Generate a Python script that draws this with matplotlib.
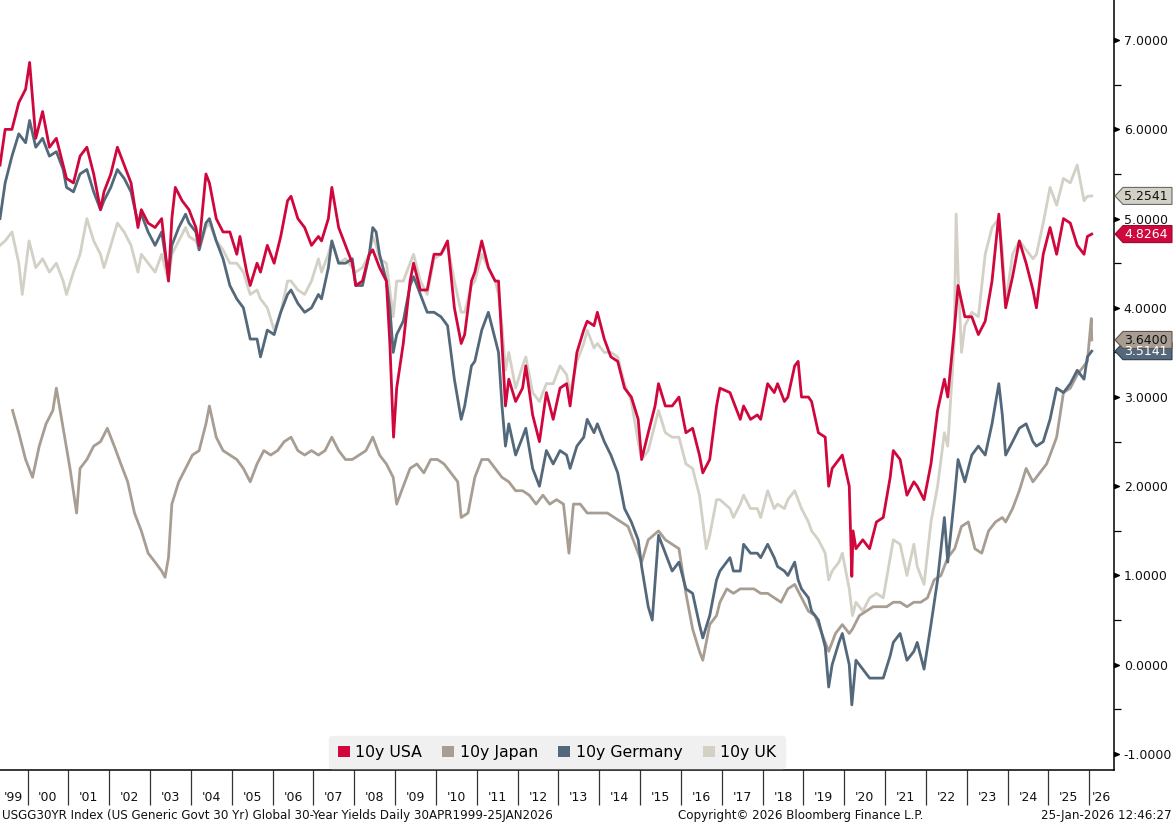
import pandas as pd
import matplotlib
matplotlib.use("Agg")
import matplotlib.pyplot as plt
import matplotlib.dates as mdates
from matplotlib.path import Path
from matplotlib.patches import Polygon, Patch
from matplotlib.transforms import IdentityTransform, blended_transform_factory

# ---- data (30y yields) ----
usa_dates = ["1999-04-30", "1999-06", "1999-08", "1999-10", "1999-12", "2000-01-20", "2000-03", "2000-05",
             "2000-07", "2000-09", "2000-11", "2000-12", "2001-02", "2001-04", "2001-06", "2001-08", "2001-10",
             "2001-11", "2002-01", "2002-03", "2002-05", "2002-07", "2002-09", "2002-10", "2002-12", "2003-02",
             "2003-04", "2003-06", "2003-07", "2003-08", "2003-10", "2003-12", "2004-02", "2004-03", "2004-05",
             "2004-06", "2004-08", "2004-10", "2004-12", "2005-02", "2005-03", "2005-05", "2005-06", "2005-08",
             "2005-09", "2005-11", "2006-01", "2006-03", "2006-05", "2006-06", "2006-08", "2006-10", "2006-12",
             "2007-02", "2007-03", "2007-05", "2007-06", "2007-08", "2007-10", "2007-12", "2008-01", "2008-03",
             "2008-05", "2008-06", "2008-08", "2008-10", "2008-11", "2008-12-18", "2009-01", "2009-03", "2009-05",
             "2009-06", "2009-08", "2009-10", "2009-12", "2010-02", "2010-04", "2010-06", "2010-08", "2010-09",
             "2010-11", "2010-12", "2011-02", "2011-04", "2011-06", "2011-07", "2011-08", "2011-09", "2011-10",
             "2011-12", "2012-02", "2012-03", "2012-05", "2012-07", "2012-09", "2012-11", "2013-01", "2013-03",
             "2013-04", "2013-06", "2013-08", "2013-09", "2013-11", "2013-12", "2014-02", "2014-04", "2014-06",
             "2014-08", "2014-10", "2014-12", "2015-01", "2015-03", "2015-05", "2015-06", "2015-08", "2015-10",
             "2015-12", "2016-02", "2016-04", "2016-06", "2016-07", "2016-09", "2016-11", "2016-12", "2017-03",
             "2017-04", "2017-06", "2017-07", "2017-09", "2017-11", "2017-12", "2018-02", "2018-04", "2018-05",
             "2018-07", "2018-08", "2018-10", "2018-11", "2018-12", "2019-02", "2019-03", "2019-05", "2019-07",
             "2019-08", "2019-09", "2019-11", "2019-12", "2020-02", "2020-03-09", "2020-03-20", "2020-04",
             "2020-06", "2020-08", "2020-10", "2020-12", "2021-02", "2021-03", "2021-05", "2021-07", "2021-09",
             "2021-10", "2021-12", "2022-02", "2022-04", "2022-06", "2022-07", "2022-09", "2022-10", "2022-12",
             "2023-02", "2023-04", "2023-06", "2023-08", "2023-10", "2023-11", "2023-12", "2024-02", "2024-04",
             "2024-06", "2024-08", "2024-09", "2024-11", "2025-01", "2025-03", "2025-05", "2025-07", "2025-09",
             "2025-11", "2025-12", "2026-01-23"]
usa_vals = [5.6, 6.0, 6.0, 6.3, 6.45, 6.75, 5.9, 6.2,
            5.8, 5.9, 5.6, 5.45, 5.4, 5.7, 5.8, 5.5, 5.1,
            5.3, 5.5, 5.8, 5.6, 5.4, 4.9, 5.1, 4.95, 4.9,
            5.0, 4.3, 5.0, 5.35, 5.2, 5.1, 4.9, 4.7, 5.5,
            5.4, 5.0, 4.85, 4.85, 4.6, 4.8, 4.4, 4.25, 4.5,
            4.4, 4.7, 4.5, 4.8, 5.2, 5.25, 5.0, 4.9, 4.7,
            4.8, 4.75, 5.0, 5.35, 4.9, 4.7, 4.5, 4.25, 4.3,
            4.6, 4.65, 4.45, 4.3, 3.6, 2.55, 3.1, 3.6, 4.3,
            4.5, 4.2, 4.2, 4.6, 4.6, 4.75, 4.0, 3.6, 3.7,
            4.3, 4.4, 4.75, 4.45, 4.3, 4.3, 3.6, 2.9, 3.2,
            2.95, 3.1, 3.35, 2.8, 2.5, 3.05, 2.75, 3.1, 3.15,
            2.9, 3.5, 3.75, 3.85, 3.8, 3.95, 3.65, 3.45, 3.4,
            3.1, 3.0, 2.75, 2.3, 2.6, 2.9, 3.15, 2.9, 2.9,
            3.0, 2.6, 2.65, 2.35, 2.15, 2.3, 2.9, 3.1, 3.05,
            2.95, 2.75, 2.9, 2.75, 2.8, 2.75, 3.15, 3.05, 3.15,
            2.95, 3.0, 3.35, 3.4, 3.0, 3.0, 2.95, 2.6, 2.55,
            2.0, 2.2, 2.3, 2.35, 2.0, 0.99, 1.5, 1.3,
            1.4, 1.3, 1.6, 1.65, 2.1, 2.4, 2.3, 1.9, 2.05,
            2.0, 1.85, 2.25, 2.85, 3.2, 3.0, 3.8, 4.25, 3.9,
            3.9, 3.7, 3.85, 4.3, 5.05, 4.5, 4.0, 4.35, 4.75,
            4.5, 4.2, 4.0, 4.6, 4.9, 4.6, 5.0, 4.95, 4.7,
            4.6, 4.8, 4.8264]

japan_dates = ["1999-08-20", "1999-10", "1999-12", "2000-02", "2000-04", "2000-06", "2000-08", "2000-09",
               "2000-11", "2001-01", "2001-03", "2001-04", "2001-06", "2001-08", "2001-10", "2001-12", "2002-02",
               "2002-04", "2002-06", "2002-08", "2002-10", "2002-12", "2003-02", "2003-04", "2003-05", "2003-06",
               "2003-07", "2003-09", "2003-11", "2004-01", "2004-03", "2004-05", "2004-06", "2004-08", "2004-10",
               "2004-12", "2005-02", "2005-04", "2005-06", "2005-08", "2005-10", "2005-12", "2006-02", "2006-04",
               "2006-06", "2006-08", "2006-10", "2006-12", "2007-02", "2007-04", "2007-06", "2007-08", "2007-10",
               "2007-12", "2008-02", "2008-04", "2008-06", "2008-08", "2008-10", "2008-12", "2009-01", "2009-03",
               "2009-05", "2009-07", "2009-09", "2009-11", "2010-01", "2010-03", "2010-05", "2010-07", "2010-08",
               "2010-10", "2010-12", "2011-02", "2011-04", "2011-06", "2011-08", "2011-10", "2011-12", "2012-02",
               "2012-04", "2012-06", "2012-08", "2012-10", "2012-12", "2013-02", "2013-04-05", "2013-05",
               "2013-07", "2013-09", "2013-11", "2014-01", "2014-03", "2014-05", "2014-07", "2014-09", "2014-11",
               "2015-01", "2015-03", "2015-06", "2015-08", "2015-10", "2015-12", "2016-02", "2016-04", "2016-06",
               "2016-07", "2016-09", "2016-11", "2016-12", "2017-02", "2017-04", "2017-06", "2017-08", "2017-10",
               "2017-12", "2018-02", "2018-04", "2018-06", "2018-08", "2018-10", "2018-12", "2019-02", "2019-04",
               "2019-06", "2019-08", "2019-10", "2019-12", "2020-02", "2020-03", "2020-05", "2020-07", "2020-09",
               "2020-11", "2021-01", "2021-03", "2021-05", "2021-07", "2021-09", "2021-11", "2022-01", "2022-03",
               "2022-05", "2022-07", "2022-09", "2022-11", "2023-01", "2023-03", "2023-05", "2023-07", "2023-09",
               "2023-11", "2023-12", "2024-02", "2024-04", "2024-06", "2024-08", "2024-10", "2024-12", "2025-01",
               "2025-03", "2025-05", "2025-07", "2025-09", "2025-11", "2025-12", "2026-01-19", "2026-01-23"]
japan_vals = [2.85, 2.6, 2.3, 2.1, 2.45, 2.7, 2.85, 3.1,
              2.65, 2.2, 1.7, 2.2, 2.3, 2.45, 2.5, 2.65, 2.45,
              2.25, 2.05, 1.7, 1.5, 1.25, 1.15, 1.05, 0.98, 1.2,
              1.8, 2.05, 2.2, 2.35, 2.4, 2.7, 2.9, 2.55, 2.4,
              2.35, 2.3, 2.2, 2.05, 2.25, 2.4, 2.35, 2.4, 2.5,
              2.55, 2.4, 2.35, 2.4, 2.35, 2.4, 2.55, 2.4, 2.3,
              2.3, 2.35, 2.4, 2.55, 2.35, 2.25, 2.1, 1.8, 2.0,
              2.2, 2.25, 2.15, 2.3, 2.3, 2.25, 2.15, 2.05, 1.65,
              1.7, 2.1, 2.3, 2.3, 2.2, 2.1, 2.05, 1.95, 1.95,
              1.9, 1.8, 1.9, 1.8, 1.85, 1.8, 1.25, 1.8,
              1.8, 1.7, 1.7, 1.7, 1.7, 1.65, 1.6, 1.55, 1.35,
              1.15, 1.4, 1.5, 1.4, 1.35, 1.3, 0.8, 0.4, 0.15,
              0.05, 0.45, 0.55, 0.7, 0.85, 0.8, 0.85, 0.85, 0.85,
              0.8, 0.8, 0.75, 0.7, 0.85, 0.9, 0.75, 0.6, 0.55,
              0.35, 0.15, 0.35, 0.45, 0.35, 0.4, 0.55, 0.6, 0.65,
              0.65, 0.65, 0.7, 0.7, 0.65, 0.7, 0.7, 0.75, 0.95,
              1.0, 1.2, 1.3, 1.55, 1.6, 1.3, 1.25, 1.5, 1.6,
              1.65, 1.6, 1.75, 1.95, 2.2, 2.05, 2.15, 2.25, 2.35,
              2.55, 3.05, 3.1, 3.25, 3.35, 3.4, 3.88, 3.64]

germany_dates = ["1999-04-30", "1999-06", "1999-08", "1999-10", "1999-12", "2000-01-20", "2000-03", "2000-05",
                 "2000-07", "2000-09", "2000-11", "2000-12", "2001-02", "2001-04", "2001-06", "2001-08", "2001-10",
                 "2001-11", "2002-01", "2002-03", "2002-05", "2002-07", "2002-09", "2002-10", "2002-12", "2003-02",
                 "2003-04", "2003-06", "2003-07", "2003-09", "2003-11", "2003-12", "2004-02", "2004-03", "2004-05",
                 "2004-06", "2004-08", "2004-10", "2004-12", "2005-02", "2005-04", "2005-06", "2005-08", "2005-09",
                 "2005-11", "2006-01", "2006-03", "2006-05", "2006-06", "2006-08", "2006-10", "2006-12", "2007-02",
                 "2007-03", "2007-05", "2007-06", "2007-08", "2007-10", "2007-12", "2008-01", "2008-03", "2008-05",
                 "2008-06", "2008-07", "2008-08", "2008-10", "2008-11", "2008-12", "2009-01", "2009-03", "2009-05",
                 "2009-06", "2009-08", "2009-10", "2009-12", "2010-02", "2010-04", "2010-06", "2010-08", "2010-09",
                 "2010-11", "2010-12", "2011-02", "2011-04", "2011-06", "2011-07", "2011-08", "2011-09", "2011-10",
                 "2011-12", "2012-02", "2012-03", "2012-05", "2012-07", "2012-09", "2012-11", "2013-01", "2013-03",
                 "2013-04", "2013-06", "2013-08", "2013-09", "2013-11", "2013-12", "2014-02", "2014-04", "2014-06",
                 "2014-08", "2014-10", "2014-12", "2015-01", "2015-03", "2015-04-20", "2015-06", "2015-08",
                 "2015-10", "2015-12", "2016-02", "2016-04", "2016-06", "2016-07", "2016-09", "2016-11", "2016-12",
                 "2017-03", "2017-04", "2017-06", "2017-07", "2017-09", "2017-11", "2017-12", "2018-02", "2018-04",
                 "2018-05", "2018-07", "2018-08", "2018-10", "2018-11", "2018-12", "2019-02", "2019-03", "2019-05",
                 "2019-07", "2019-08-15", "2019-09", "2019-11", "2019-12", "2020-02", "2020-03-09", "2020-04",
                 "2020-06", "2020-08", "2020-10", "2020-12", "2021-02", "2021-03", "2021-05", "2021-07", "2021-09",
                 "2021-10", "2021-12", "2022-02", "2022-04", "2022-06", "2022-07", "2022-09", "2022-10", "2022-12",
                 "2023-02", "2023-04", "2023-06", "2023-08", "2023-10", "2023-11", "2023-12", "2024-02", "2024-04",
                 "2024-06", "2024-08", "2024-09", "2024-11", "2025-01", "2025-03", "2025-05", "2025-07", "2025-09",
                 "2025-11", "2025-12", "2026-01-23"]
germany_vals = [5.0, 5.4, 5.7, 5.95, 5.85, 6.1, 5.8, 5.9,
                5.7, 5.75, 5.55, 5.35, 5.3, 5.5, 5.55, 5.3, 5.1,
                5.2, 5.35, 5.55, 5.45, 5.3, 4.95, 5.05, 4.85, 4.7,
                4.85, 4.35, 4.7, 4.9, 5.05, 4.95, 4.85, 4.65, 4.95,
                5.0, 4.75, 4.55, 4.25, 4.1, 4.0, 3.65, 3.65, 3.45,
                3.75, 3.7, 3.95, 4.15, 4.2, 4.05, 3.95, 4.0, 4.15,
                4.1, 4.45, 4.75, 4.5, 4.5, 4.55, 4.25, 4.25, 4.6,
                4.9, 4.85, 4.6, 4.3, 4.0, 3.5, 3.7, 3.85, 4.25,
                4.35, 4.15, 3.95, 3.95, 3.9, 3.8, 3.2, 2.75, 2.9,
                3.35, 3.4, 3.75, 3.95, 3.65, 3.5, 2.9, 2.45, 2.7,
                2.35, 2.55, 2.65, 2.2, 2.0, 2.4, 2.25, 2.4, 2.35,
                2.2, 2.45, 2.55, 2.75, 2.6, 2.7, 2.5, 2.35, 2.15,
                1.75, 1.6, 1.4, 1.1, 0.65, 0.5, 1.45, 1.25,
                1.05, 1.15, 0.85, 0.8, 0.45, 0.3, 0.55, 0.95, 1.05,
                1.2, 1.05, 1.05, 1.35, 1.25, 1.25, 1.2, 1.35, 1.2,
                1.1, 1.05, 1.0, 1.15, 0.95, 0.85, 0.75, 0.6, 0.5,
                0.2, -0.25, 0.0, 0.25, 0.35, 0.0, -0.45, 0.05,
                -0.05, -0.15, -0.15, -0.15, 0.1, 0.25, 0.35, 0.05, 0.15,
                0.25, -0.05, 0.45, 0.95, 1.65, 1.15, 1.9, 2.3, 2.05,
                2.35, 2.45, 2.35, 2.7, 3.15, 2.8, 2.35, 2.5, 2.65,
                2.7, 2.5, 2.45, 2.5, 2.75, 3.1, 3.05, 3.15, 3.3,
                3.2, 3.45, 3.5141]

uk_dates = ["1999-04-30", "1999-06", "1999-08", "1999-10", "1999-11", "2000-01", "2000-03", "2000-05",
            "2000-07", "2000-09", "2000-11", "2000-12", "2001-02", "2001-04", "2001-06", "2001-08", "2001-10",
            "2001-11", "2002-01", "2002-03", "2002-05", "2002-07", "2002-09", "2002-10", "2002-12", "2003-02",
            "2003-04", "2003-06", "2003-07", "2003-09", "2003-11", "2003-12", "2004-02", "2004-03", "2004-05",
            "2004-06", "2004-08", "2004-10", "2004-12", "2005-02", "2005-04", "2005-06", "2005-08", "2005-09",
            "2005-11", "2006-01", "2006-03", "2006-05", "2006-06", "2006-08", "2006-10", "2006-12", "2007-02",
            "2007-03", "2007-05", "2007-06", "2007-08", "2007-10", "2007-12", "2008-01", "2008-03", "2008-05",
            "2008-06", "2008-07", "2008-08", "2008-10", "2008-11", "2008-12", "2009-01", "2009-03", "2009-05",
            "2009-06", "2009-08", "2009-10", "2009-12", "2010-02", "2010-04", "2010-06", "2010-08", "2010-09",
            "2010-11", "2010-12", "2011-02", "2011-04", "2011-06", "2011-07", "2011-08", "2011-09", "2011-10",
            "2011-12", "2012-02", "2012-03", "2012-05", "2012-07", "2012-09", "2012-11", "2013-01", "2013-03",
            "2013-04", "2013-06", "2013-08", "2013-09", "2013-11", "2013-12", "2014-02", "2014-04", "2014-06",
            "2014-08", "2014-10", "2014-12", "2015-01", "2015-03", "2015-05", "2015-06", "2015-08", "2015-10",
            "2015-12", "2016-02", "2016-04", "2016-06", "2016-08", "2016-09", "2016-11", "2016-12", "2017-03",
            "2017-04", "2017-06", "2017-07", "2017-09", "2017-11", "2017-12", "2018-02", "2018-04", "2018-05",
            "2018-07", "2018-08", "2018-10", "2018-11", "2018-12", "2019-02", "2019-03", "2019-05", "2019-07",
            "2019-08", "2019-09", "2019-11", "2019-12", "2020-02", "2020-03", "2020-04", "2020-06", "2020-08",
            "2020-10", "2020-12", "2021-02", "2021-03", "2021-05", "2021-07", "2021-09", "2021-10", "2021-12",
            "2022-02", "2022-04", "2022-06", "2022-07", "2022-09-10", "2022-09-28", "2022-10-15", "2022-11",
            "2022-12", "2023-02", "2023-04", "2023-06", "2023-08", "2023-10", "2023-11", "2023-12", "2024-02",
            "2024-04", "2024-06", "2024-08", "2024-09", "2024-11", "2025-01", "2025-03", "2025-05", "2025-07",
            "2025-09", "2025-11", "2025-12", "2026-01-23"]
uk_vals = [4.7, 4.75, 4.85, 4.5, 4.15, 4.75, 4.45, 4.55,
           4.4, 4.5, 4.3, 4.15, 4.4, 4.6, 5.0, 4.75, 4.6,
           4.45, 4.7, 4.95, 4.85, 4.7, 4.4, 4.6, 4.5, 4.4,
           4.6, 4.3, 4.6, 4.75, 4.9, 4.8, 4.75, 4.65, 4.9,
           4.95, 4.75, 4.65, 4.5, 4.5, 4.4, 4.15, 4.2, 4.1,
           4.0, 3.75, 3.95, 4.3, 4.3, 4.2, 4.15, 4.3, 4.55,
           4.4, 4.6, 4.75, 4.5, 4.55, 4.45, 4.4, 4.45, 4.6,
           4.8, 4.7, 4.55, 4.5, 4.2, 3.9, 4.3, 4.3, 4.5,
           4.6, 4.3, 4.15, 4.55, 4.6, 4.7, 4.3, 3.95, 3.95,
           4.25, 4.3, 4.6, 4.45, 4.3, 4.15, 3.8, 3.3, 3.5,
           3.1, 3.35, 3.45, 3.05, 2.95, 3.15, 3.15, 3.35, 3.25,
           3.05, 3.4, 3.6, 3.75, 3.55, 3.6, 3.5, 3.5, 3.45,
           3.15, 2.95, 2.5, 2.3, 2.4, 2.7, 2.85, 2.6, 2.55,
           2.55, 2.25, 2.2, 1.9, 1.3, 1.45, 1.85, 1.85, 1.75,
           1.65, 1.8, 1.9, 1.75, 1.75, 1.65, 1.95, 1.75, 1.8,
           1.75, 1.85, 1.95, 1.85, 1.75, 1.6, 1.5, 1.4, 1.25,
           0.95, 1.05, 1.15, 1.25, 0.85, 0.55, 0.7, 0.6, 0.75,
           0.8, 0.75, 1.2, 1.4, 1.35, 1.0, 1.35, 1.1, 0.9,
           1.6, 2.0, 2.6, 2.45, 3.6, 5.05, 4.4, 3.5,
           3.8, 3.95, 3.9, 4.6, 4.9, 5.0, 4.65, 4.05, 4.6,
           4.75, 4.65, 4.55, 4.6, 4.95, 5.35, 5.15, 5.45, 5.4,
           5.6, 5.2, 5.25, 5.2541]

series_names = ["10y USA", "10y Japan", "10y Germany", "10y UK"]
last_vals = ["4.8264", "3.6400", "3.5141", "5.2541"]
year_labels = ["'%02d" % (y % 100) for y in range(1999, 2027)]

colors = {"10y USA": "#D0073D", "10y Japan": "#A89D93", "10y Germany": "#53687A", "10y UK": "#D3D0C6"}


def to_dates(lst):
    return pd.to_datetime([s if len(s) > 7 else s + "-15" for s in lst])


data = {
    "10y USA": (to_dates(usa_dates), usa_vals),
    "10y Japan": (to_dates(japan_dates), japan_vals),
    "10y Germany": (to_dates(germany_dates), germany_vals),
    "10y UK": (to_dates(uk_dates), uk_vals),
}

plt.rcParams["font.family"] = ["DejaVu Sans"]

fig = plt.figure(figsize=(11.74, 8.23), dpi=100)
ax = fig.add_axes([0.0, (823 - 770) / 823, 1114 / 1174, 770 / 823])

# draw order: UK at the back, USA in front
zorders = {"10y UK": 2, "10y Japan": 3, "10y Germany": 4, "10y USA": 5}
for name in series_names:
    d, v = data[name]
    ax.plot(d, v, color=colors[name], lw=2.0, zorder=zorders[name], solid_joinstyle="round")

x_left = pd.Timestamp("1999-04-30")
x_right = pd.Timestamp("2026-08-10")

# spines
for s in ["left", "top"]:
    ax.spines[s].set_visible(False)
ax.spines["right"].set_color("black")
ax.spines["bottom"].set_color("black")
ax.spines["right"].set_linewidth(1.1)
ax.spines["bottom"].set_linewidth(1.1)

# y axis on the right
ax.yaxis.tick_right()
ax.set_yticks(range(-1, 8))
ax.set_yticklabels(["%.4f" % v for v in range(-1, 8)])
ax.set_yticks([v + 0.5 for v in range(-1, 7)], minor=True)
ax.tick_params(axis="y", which="major", length=0, pad=7, labelsize=9, labelcolor="#111111")
ax.tick_params(axis="y", which="minor", length=5, width=0.9, color="black", direction="out")

# x axis: year boundaries as long ticks, labels centred in each year
ax.xaxis.set_major_locator(mdates.YearLocator())
ax.xaxis.set_major_formatter(plt.NullFormatter())
centers = []
for y in range(1999, 2027):
    a = max(pd.Timestamp("%d-01-01" % y), x_left)
    b = min(pd.Timestamp("%d-01-01" % (y + 1)), x_right)
    centers.append(a + (b - a) / 2)
ax.set_xticks(centers, minor=True)
ax.set_xticklabels(year_labels, minor=True)
ax.tick_params(axis="x", which="major", length=25, width=0.9, color="#333333", direction="out")
ax.tick_params(axis="x", which="minor", length=0, pad=15, labelsize=9, labelcolor="#111111")

# limits last, so tick setting cannot widen them
ax.set_xlim(x_left, x_right)
ax.set_ylim(-1.18, 7.45)

# little arrow heads for the major ticks
arrow = Path([(0, -0.5), (1.2, 0), (0, 0.5), (0, -0.5)], [Path.MOVETO, Path.LINETO, Path.LINETO, Path.CLOSEPOLY])
btr = blended_transform_factory(ax.transAxes, ax.transData)
ax.plot([1.0] * 9, list(range(-1, 8)), ls="none", marker=arrow, ms=7, color="black",
        transform=btr, clip_on=False, zorder=10)
ax.set_ylim(-1.18, 7.45)

# legend
handles = [Patch(facecolor=colors[n], edgecolor="none", label=n) for n in series_names]
leg = ax.legend(handles=handles, loc="lower center", bbox_to_anchor=(0.5, 0.002), ncol=4,
                fontsize=11.3, frameon=True, facecolor="#F0F0F0", edgecolor="#F0F0F0", framealpha=1,
                handlelength=0.75, handleheight=0.75, handletextpad=0.35, columnspacing=1.3,
                borderpad=0.55, borderaxespad=0.0)
leg.set_zorder(20)

# last value tags on the right axis
tag_style = {
    "10y Germany": ("#53687A", "#2E3D4A", "white"),
    "10y Japan": ("#A89D93", "#5E554C", "#111111"),
    "10y USA": ("#D0073D", "#9A0A2E", "white"),
    "10y UK": ("#D3D0C6", "#6A6A66", "#111111"),
}
x0 = ax.transAxes.transform((1, 0))[0]
for name in ["10y Germany", "10y Japan", "10y USA", "10y UK"]:
    val = last_vals[series_names.index(name)]
    yp = ax.transData.transform((mdates.date2num(x_right), float(val)))[1]
    fc, ec, tc = tag_style[name]
    h = 8.5
    verts = [(x0 + 1, yp), (x0 + 9, yp + h), (x0 + 58, yp + h), (x0 + 58, yp - h), (x0 + 9, yp - h)]
    poly = Polygon(verts, closed=True, facecolor=fc, edgecolor=ec, lw=0.8, transform=IdentityTransform())
    fig.add_artist(poly)
    fig.text(x0 + 10, yp - 0.5, val, transform=IdentityTransform(), ha="left", va="center",
             fontsize=9, color=tc)

# footer
fig.text(0.002, 0.0095, "USGG30YR Index (US Generic Govt 30 Yr) Global 30-Year Yields Daily 30APR1999-25JAN2026",
         ha="left", va="center", fontsize=8.6, color="#111111")
fig.text(0.5775, 0.0095, "Copyright\u00a9 2026 Bloomberg Finance L.P.", ha="left", va="center",
         fontsize=8.6, color="#111111")
fig.text(0.998, 0.0095, "25-Jan-2026 12:46:27", ha="right", va="center", fontsize=8.6, color="#111111")

fig.savefig("out.png", dpi=100)
